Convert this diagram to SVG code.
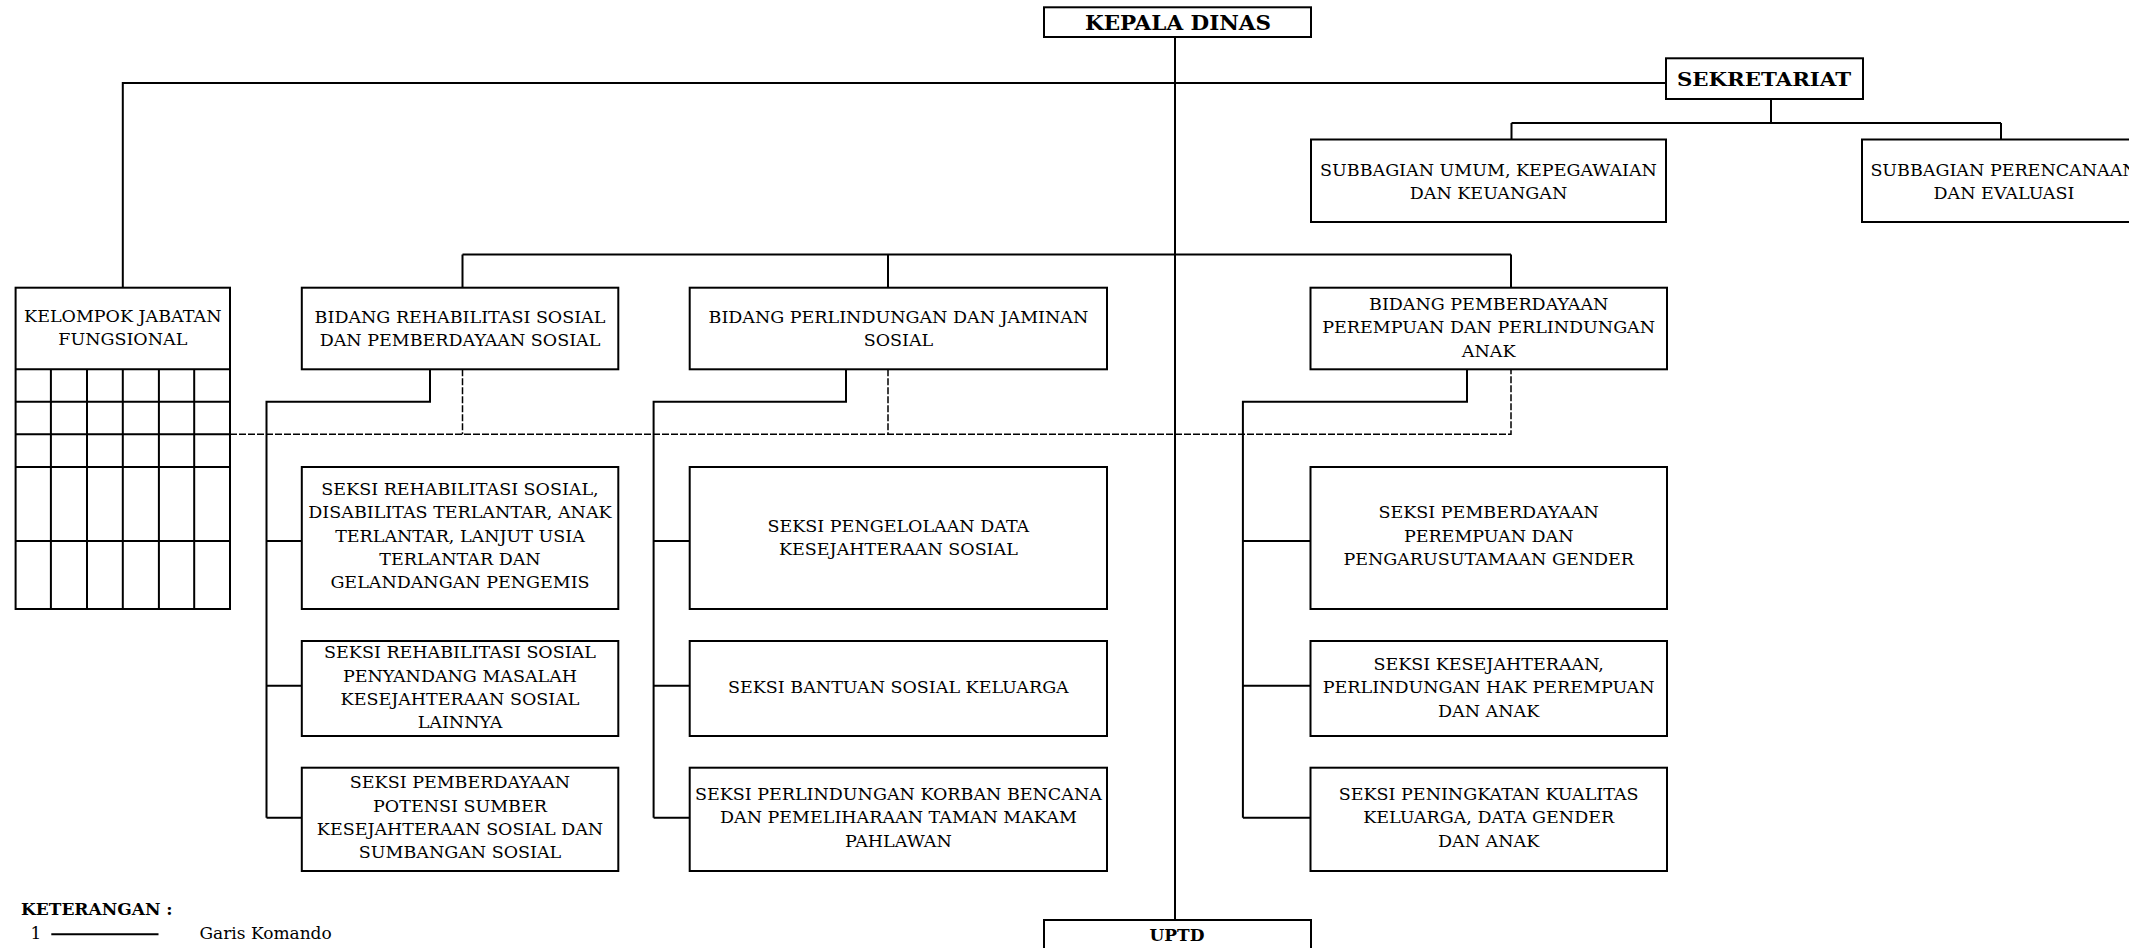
<svg xmlns="http://www.w3.org/2000/svg" width="2129" height="948" viewBox="0 0 2129 948">
<style>
.box{fill:#fff;stroke:#000;stroke-width:2}
.ln{fill:none;stroke:#000;stroke-width:2}
.ds{fill:none;stroke:#000;stroke-width:1.5;stroke-dasharray:7 2}
.t{font-family:"DejaVu Serif","Liberation Serif",serif;font-size:17.5px;text-anchor:middle;fill:#000}
.b{font-family:"DejaVu Serif","Liberation Serif",serif;font-weight:bold;text-anchor:middle;fill:#000}
.l{font-family:"DejaVu Serif","Liberation Serif",serif;font-size:17px;fill:#000}
</style>
<rect width="2129" height="948" fill="#fff"/>
<g id="connectors">
<path class="ln" d="M1175,37 V920"/>
<path class="ln" d="M122.8,288 V83 H1666"/>
<path class="ln" d="M1771,99 V123 M1511.5,123 H2001 M1511.5,123 V139.5 M2001,123 V139.5"/>
<path class="ln" d="M462.5,254.5 H1511 M462.5,254.5 V287.7 M888,254.5 V287.7 M1511,254.5 V287.7"/>
<path class="ln" d="M430,369.3 V401.7 H266.5 V817.7 M266.5,541 H301.8 M266.5,685.7 H301.8 M266.5,817.7 H301.8"/>
<path class="ln" d="M846,369.3 V401.7 H653.6 V817.7 M653.6,541 H689.7 M653.6,685.7 H689.7 M653.6,817.7 H689.7"/>
<path class="ln" d="M1467,369.3 V401.7 H1242.9 V817.7 M1242.9,541 H1310.5 M1242.9,685.7 H1310.5 M1242.9,817.7 H1310.5"/>
<path class="ds" d="M230,434.3 H1511 V369.3 M462.5,369.3 V434.3 M888,369.3 V434.3"/>
</g>
<g id="kepala-dinas">
<rect class="box" x="1044" y="7.3" width="267" height="29.7"/>
<text class="b" x="1178" y="30" font-size="20" textLength="186" lengthAdjust="spacingAndGlyphs">KEPALA DINAS</text>
</g>
<g id="sekretariat">
<rect class="box" x="1666" y="58.3" width="197" height="40.7"/>
<text class="b" x="1764" y="86" font-size="18.5" textLength="174" lengthAdjust="spacingAndGlyphs">SEKRETARIAT</text>
</g>
<g id="subbagian-umum">
<rect class="box" x="1311" y="139.5" width="355" height="82.5"/>
<text class="t" x="1488.5" y="175.8">SUBBAGIAN UMUM, KEPEGAWAIAN</text>
<text class="t" x="1488.5" y="199.1">DAN KEUANGAN</text>
</g>
<g id="subbagian-perencanaan">
<rect class="box" x="1862" y="139.5" width="285" height="82.5"/>
<text class="t" x="2004" y="175.8">SUBBAGIAN PERENCANAAN</text>
<text class="t" x="2004" y="199.1">DAN EVALUASI</text>
</g>
<g id="kelompok-jabatan-fungsional">
<rect class="box" x="15.6" y="287.7" width="214.4" height="321.3"/>
<path class="ln" d="M15.6,369.3 H230 M15.6,401.7 H230 M15.6,434.3 H230 M15.6,467 H230 M15.6,541 H230 M50.9,369.3 V609 M87,369.3 V609 M122.8,369.3 V609 M158.9,369.3 V609 M194.2,369.3 V609"/>
<text class="t" x="122.8" y="321.7">KELOMPOK JABATAN</text>
<text class="t" x="122.8" y="345">FUNGSIONAL</text>
</g>
<g id="bidang-rehabilitasi">
<rect class="box" x="301.8" y="287.7" width="316.5" height="81.6"/>
<text class="t" x="460" y="322.7">BIDANG REHABILITASI SOSIAL</text>
<text class="t" x="460" y="346">DAN PEMBERDAYAAN SOSIAL</text>
</g>
<g id="bidang-perlindungan">
<rect class="box" x="689.7" y="287.7" width="417.3" height="81.6"/>
<text class="t" x="898.4" y="322.7">BIDANG PERLINDUNGAN DAN JAMINAN</text>
<text class="t" x="898.4" y="346">SOSIAL</text>
</g>
<g id="bidang-pemberdayaan">
<rect class="box" x="1310.5" y="287.7" width="356.5" height="81.6"/>
<text class="t" x="1488.7" y="309.8">BIDANG PEMBERDAYAAN</text>
<text class="t" x="1488.7" y="333.3">PEREMPUAN DAN PERLINDUNGAN</text>
<text class="t" x="1488.7" y="356.7">ANAK</text>
</g>
<g id="seksi-rehab-1">
<rect class="box" x="301.8" y="467" width="316.5" height="142"/>
<text class="t" x="460" y="495">SEKSI REHABILITASI SOSIAL,</text>
<text class="t" x="460" y="518.3">DISABILITAS TERLANTAR, ANAK</text>
<text class="t" x="460" y="541.7">TERLANTAR, LANJUT USIA</text>
<text class="t" x="460" y="565">TERLANTAR DAN</text>
<text class="t" x="460" y="588.3">GELANDANGAN PENGEMIS</text>
</g>
<g id="seksi-rehab-2">
<rect class="box" x="301.8" y="641" width="316.5" height="95"/>
<text class="t" x="460" y="658.3">SEKSI REHABILITASI SOSIAL</text>
<text class="t" x="460" y="681.7">PENYANDANG MASALAH</text>
<text class="t" x="460" y="705">KESEJAHTERAAN SOSIAL</text>
<text class="t" x="460" y="728.3">LAINNYA</text>
</g>
<g id="seksi-pemberdayaan-potensi">
<rect class="box" x="301.8" y="767.7" width="316.5" height="103.3"/>
<text class="t" x="460" y="788.3">SEKSI PEMBERDAYAAN</text>
<text class="t" x="460" y="811.7">POTENSI SUMBER</text>
<text class="t" x="460" y="835">KESEJAHTERAAN SOSIAL DAN</text>
<text class="t" x="460" y="858.3">SUMBANGAN SOSIAL</text>
</g>
<g id="seksi-pengelolaan-data">
<rect class="box" x="689.7" y="467" width="417.3" height="142"/>
<text class="t" x="898.4" y="531.7">SEKSI PENGELOLAAN DATA</text>
<text class="t" x="898.4" y="555">KESEJAHTERAAN SOSIAL</text>
</g>
<g id="seksi-bantuan-sosial">
<rect class="box" x="689.7" y="641" width="417.3" height="95"/>
<text class="t" x="898.4" y="693.3">SEKSI BANTUAN SOSIAL KELUARGA</text>
</g>
<g id="seksi-perlindungan-korban">
<rect class="box" x="689.7" y="767.7" width="417.3" height="103.3"/>
<text class="t" x="898.4" y="800">SEKSI PERLINDUNGAN KORBAN BENCANA</text>
<text class="t" x="898.4" y="823.3">DAN PEMELIHARAAN TAMAN MAKAM</text>
<text class="t" x="898.4" y="846.7">PAHLAWAN</text>
</g>
<g id="seksi-pemberdayaan-perempuan">
<rect class="box" x="1310.5" y="467" width="356.5" height="142"/>
<text class="t" x="1488.7" y="518.3">SEKSI PEMBERDAYAAN</text>
<text class="t" x="1488.7" y="541.7">PEREMPUAN DAN</text>
<text class="t" x="1488.7" y="565">PENGARUSUTAMAAN GENDER</text>
</g>
<g id="seksi-kesejahteraan">
<rect class="box" x="1310.5" y="641" width="356.5" height="95"/>
<text class="t" x="1488.7" y="670">SEKSI KESEJAHTERAAN,</text>
<text class="t" x="1488.7" y="693.3">PERLINDUNGAN HAK PEREMPUAN</text>
<text class="t" x="1488.7" y="716.7">DAN ANAK</text>
</g>
<g id="seksi-peningkatan-kualitas">
<rect class="box" x="1310.5" y="767.7" width="356.5" height="103.3"/>
<text class="t" x="1488.7" y="800">SEKSI PENINGKATAN KUALITAS</text>
<text class="t" x="1488.7" y="823.3">KELUARGA, DATA GENDER</text>
<text class="t" x="1488.7" y="846.7">DAN ANAK</text>
</g>
<g id="uptd">
<rect class="box" x="1044" y="920" width="267" height="40"/>
<text class="b" x="1177" y="940.5" font-size="17">UPTD</text>
</g>
<g id="legend">
<text class="b" x="21" y="915" font-size="17" style="text-anchor:start">KETERANGAN :</text>
<text class="l" x="30.4" y="939.3">1</text>
<path class="ln" d="M51.3,934.3 H158.5"/>
<text class="l" x="199.5" y="939.3">Garis Komando</text>
</g>
</svg>
